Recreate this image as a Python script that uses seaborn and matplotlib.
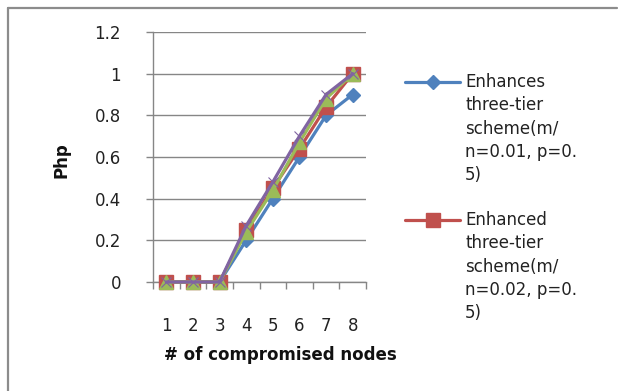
import matplotlib
matplotlib.use("Agg")
import matplotlib.pyplot as plt
from matplotlib.lines import Line2D
import seaborn as sns
import pandas as pd

# Number of compromised nodes
nodes = [1, 2, 3, 4, 5, 6, 7, 8]

# Php for each scheme variant
php_m001 = [0, 0, 0, 0.20, 0.40, 0.60, 0.80, 0.90]
php_m002 = [0, 0, 0, 0.25, 0.45, 0.64, 0.84, 1.00]
php_m003 = [0, 0, 0, 0.24, 0.44, 0.67, 0.88, 1.00]
php_m004 = [0, 0, 0, 0.27, 0.48, 0.70, 0.90, 1.00]

series_labels = [
    "Enhances\nthree-tier\nscheme(m/\nn=0.01, p=0.\n5)",
    "Enhanced\nthree-tier\nscheme(m/\nn=0.02, p=0.\n5)",
    "Enhanced\nthree-tier\nscheme(m/\nn=0.03, p=0.\n5)",
    "Enhanced\nthree-tier\nscheme(m/\nn=0.04, p=0.\n5)",
]
y_ticks = [0, 0.2, 0.4, 0.6, 0.8, 1, 1.2]
y_tick_labels = ["0", "0.2", "0.4", "0.6", "0.8", "1", "1.2"]

colors = ["#4F81BD", "#C0504D", "#9BBB59", "#8064A2"]
markers = ["D", "s", "^", "x"]
msizes = [7.5, 10.5, 10.5, 7]
mews = [1, 1, 1, 0.8]

rows = []
for lab, vals in zip(series_labels, [php_m001, php_m002, php_m003, php_m004]):
    for n, v in zip(nodes, vals):
        rows.append({"nodes": n, "php": v, "scheme": lab})
df = pd.DataFrame(rows)

sns.set_theme(style="white")
plt.rcParams["font.family"] = ["DejaVu Sans"]

W, H = 618, 391
fig = plt.figure(figsize=(W / 100, H / 100), dpi=100)
ax = fig.add_axes([153 / W, 1 - 282 / H, (366 - 153) / W, 250 / H])

grid_c = "#868686"
for i, lab in enumerate(series_labels):
    sub = df[df["scheme"] == lab]
    sns.lineplot(data=sub, x="nodes", y="php", ax=ax, color=colors[i],
                 marker=markers[i], markersize=msizes[i],
                 markeredgecolor=colors[i], markeredgewidth=mews[i],
                 linewidth=2.3, legend=False, zorder=3 + i, clip_on=False)

ax.set_xlim(0.5, 8.5)
ax.set_ylim(0, 1.2)
ax.set_yticks(y_ticks)
ax.set_yticklabels(y_tick_labels)
ax.set_xticks(nodes)
ax.set_xticklabels([str(n) for n in nodes])
ax.set_xticks([n + 0.5 for n in [0] + nodes], minor=True)
ax.set_xlabel("")
ax.set_ylabel("")

ax.yaxis.grid(True, color=grid_c, linewidth=1)
ax.set_axisbelow(True)
for s in ["top", "right"]:
    ax.spines[s].set_visible(False)
for s in ["left", "bottom"]:
    ax.spines[s].set_color(grid_c)
    ax.spines[s].set_linewidth(1)

ax.tick_params(axis="y", which="major", left=True, length=5, width=1,
               color=grid_c, pad=18, labelsize=12, labelcolor="#222222")
ax.tick_params(axis="x", which="major", bottom=False, length=0, pad=25,
               labelsize=12, labelcolor="#222222")
ax.tick_params(axis="x", which="minor", bottom=True, length=5, width=1,
               color=grid_c)

fig.text(62 / W, 1 - 160 / H, "Php", rotation=90, ha="center", va="center",
         fontsize=12, fontweight="bold", color="#111111")
fig.text(280 / W, 1 - 355 / H, "# of compromised nodes", ha="center",
         va="center", fontsize=12, fontweight="bold", color="#111111")

# Legend entries (the box is clipped on the right, only two are visible)
legend_y = [82, 220]
for i, yy in enumerate(legend_y):
    fy = 1 - yy / H
    fig.add_artist(Line2D([405 / W, 460 / W], [fy, fy], color=colors[i],
                          linewidth=2.3, transform=fig.transFigure))
    fig.add_artist(Line2D([432.5 / W], [fy], color=colors[i],
                          marker=markers[i], markersize=msizes[i] * 0.9,
                          markeredgecolor=colors[i], linestyle="none",
                          transform=fig.transFigure))
    fig.text(465 / W, fy + 9 / H, series_labels[i], ha="left", va="top",
             fontsize=12, color="#222222", linespacing=1.38)

# Outer frame lines
fig.add_artist(Line2D([8 / W, 617 / W], [1 - 8 / H, 1 - 8 / H], color="#8c8c8c",
                      linewidth=1.6, transform=fig.transFigure))
fig.add_artist(Line2D([8 / W, 8 / W], [1 - 8 / H, 0], color="#8c8c8c",
                      linewidth=1.6, transform=fig.transFigure))

fig.savefig("out.png", dpi=100)
